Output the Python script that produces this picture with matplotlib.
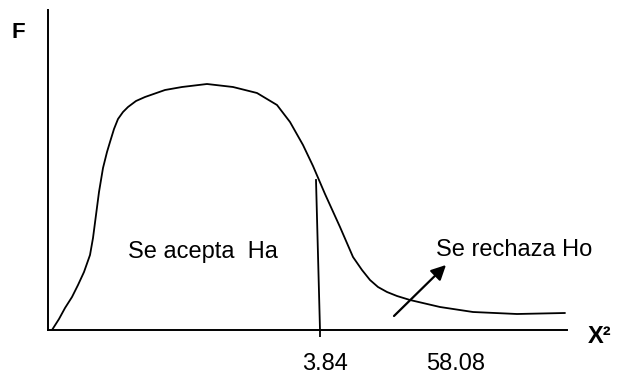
import matplotlib.pyplot as plt

plt.rcParams['font.family'] = ['Liberation Sans', 'DejaVu Sans']

# Curva esquemática (unidades: distancia desde el origen de los ejes)
curve_x = [4, 11, 17, 24, 30, 36, 42, 45, 48, 51, 55, 59, 62, 66, 70, 75, 80, 88,
           97, 117, 134, 159, 185, 209, 229, 242, 255, 265, 277, 292, 305, 314,
           322, 330, 339, 349, 362, 392, 425, 469, 517]
curve_y = [0, 11, 22, 33, 45, 58, 75, 92, 115, 138, 162, 178, 188, 201, 211, 218,
           223, 229, 233, 240, 243, 246, 243, 237, 225, 208, 185, 164, 136, 103,
           73, 60, 50, 43, 38, 34, 30, 23, 18, 16, 17]

# Valor crítico (línea vertical) y etiquetas del eje X
crit_line_x = [268, 272]
crit_line_y = [150, 0]
tick_pos = [272]
value_labels = ["3.84", "58.08"]
value_label_x = [254, 378]

# Flecha hacia la zona de rechazo
arrow_tail = (346, 14)
arrow_tip = (398, 65)

fig = plt.figure(figsize=(6.18, 3.81), dpi=100, facecolor="white")
ax = fig.add_axes([48 / 618, 51 / 381, 519 / 618, 320 / 381])
ax.set_xlim(0, 519)
ax.set_ylim(0, 320)

ax.plot(curve_x, curve_y, color="black", lw=1.3,
        solid_capstyle="round", solid_joinstyle="round")
ax.plot(crit_line_x, crit_line_y, color="black", lw=1.3)

ax.annotate("", xy=arrow_tip, xytext=arrow_tail,
            arrowprops=dict(arrowstyle="-|>", color="black", lw=1.6,
                            mutation_scale=22, shrinkA=0, shrinkB=0))

ax.text(80, 72, "Se acepta  Ha", fontsize=17, va="baseline", ha="left")
ax.text(388, 74, "Se rechaza Ho", fontsize=17, va="baseline", ha="left")
for lab, xl in zip(value_labels, value_label_x):
    ax.text(xl, -40, lab, fontsize=17, va="baseline", ha="left", clip_on=False)

for side in ["top", "right"]:
    ax.spines[side].set_visible(False)
for side in ["left", "bottom"]:
    ax.spines[side].set_linewidth(1.4)
ax.set_xticks(tick_pos)
ax.set_xticklabels([])
ax.set_yticks([])
ax.tick_params(axis="x", length=5, width=1.3, direction="out")

fig.text(12 / 618, (381 - 38) / 381, "F", fontsize=16, fontweight="bold",
         va="baseline", ha="left")
fig.text(588 / 618, (381 - 343) / 381, "X²", fontsize=17, fontweight="bold",
         va="baseline", ha="left")

fig.savefig("out.png", dpi=100, facecolor="white")
